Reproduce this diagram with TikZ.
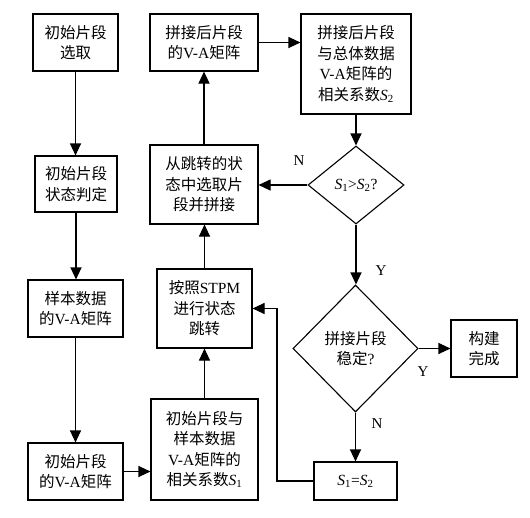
\documentclass[tikz,border=0pt]{standalone}
\usepackage{fontspec}
\setmainfont{Liberation Serif}
\newfontfamily\cjk{Noto Sans CJK SC}
\usetikzlibrary{arrows.meta,shapes.geometric}
\newcommand{\zw}[1]{{\cjk #1}}
\newcommand{\sv}[1]{\textit{S}\textsubscript{#1}}
\begin{document}
\begin{tikzpicture}[x=1pt,y=-1pt,
  every node/.style={font=\fontsize{15.5}{20.5}\selectfont},
  box/.style={draw,line width=1.1pt,align=center,inner sep=1pt},
  dia/.style={draw,line width=1.1pt,shape=diamond,align=center,inner sep=0pt},
  lab/.style={font=\fontsize{15}{18}\selectfont},
  arr/.style={line width=1.1pt,-{Triangle[length=12pt,width=11pt]}}]
\useasboundingbox (0,0) rectangle (530,517);
\node[box,minimum width=85pt,minimum height=57pt] (b1) at (75.5,42.5) {\zw{初始片段}\\\zw{选取}};
\node[box,minimum width=82pt,minimum height=56pt] (b2) at (76,184) {\zw{初始片段}\\\zw{状态判定}};
\node[box,minimum width=95pt,minimum height=57pt] (b3) at (75.5,308.5) {\zw{样本数据}\\\zw{的}V-A\zw{矩阵}};
\node[box,minimum width=95pt,minimum height=57pt] (b4) at (75.5,471.5) {\zw{初始片段}\\\zw{的}V-A\zw{矩阵}};
\node[box,minimum width=107pt,minimum height=101pt] (b5) at (204.5,449.5) {\zw{初始片段与}\\\zw{样本数据}\\V-A\zw{矩阵的}\\\zw{相关系数}\sv{1}};
\node[box,minimum width=95pt,minimum height=79pt] (b6) at (204.5,308.5) {\zw{按照}STPM\\\zw{进行状态}\\\zw{跳转}};
\node[box,minimum width=108pt,minimum height=79pt] (b7) at (204,184.5) {\zw{从跳转的状}\\\zw{态中选取片}\\\zw{段并拼接}};
\node[box,minimum width=108pt,minimum height=57pt] (b8) at (204,42.5) {\zw{拼接后片段}\\\zw{的}V-A\zw{矩阵}};
\node[box,minimum width=110pt,minimum height=100pt] (b9) at (356,64) {\zw{拼接后片段}\\\zw{与总体数据}\\V-A\zw{矩阵的}\\\zw{相关系数}\sv{2}};
\node[dia,minimum width=96pt,minimum height=78pt] (d1) at (356,185) {\sv{1}>\sv{2}?};
\node[dia,minimum width=125pt,minimum height=127pt] (d2) at (355.5,348.5) {\zw{拼接片段}\\\zw{稳定}?};
\node[box,minimum width=66pt,minimum height=57pt] (b10) at (484,348.5) {\zw{构建}\\\zw{完成}};
\node[box,minimum width=83pt,minimum height=38pt] (b11) at (355.5,481) {\sv{1}=\sv{2}};
\coordinate (turn) at (277,481);
\draw[arr] (b1.south) -- (b1.south |- b2.north);
\draw[arr] (b2.south) -- (b2.south |- b3.north);
\draw[arr] (b3.south) -- (b3.south |- b4.north);
\draw[arr] (b4.east) -- (b4.east -| b5.west);
\draw[arr] (b5.north) -- (b5.north |- b6.south);
\draw[arr] (b6.north) -- (b6.north |- b7.south);
\draw[arr] (b7.north) -- (b7.north |- b8.south);
\draw[arr] (b8.east) -- (b8.east -| b9.west);
\draw[arr] (b9.south) -- (b9.south |- d1.north);
\draw[arr] (d1.west) -- (d1.west -| b7.east);
\draw[arr] (d1.south) -- (d1.south |- d2.north);
\draw[arr] (d2.east) -- (d2.east -| b10.west);
\draw[arr] (d2.south) -- (d2.south |- b11.north);
\draw[arr] (b11.west) -- (turn) |- (b6.east);
\node[lab] (ln1) at (299,161) {N};
\node[lab] (ly1) at (381,271) {Y};
\node[lab] (ly2) at (423,372) {Y};
\node[lab] (ln2) at (377,424) {N};
\end{tikzpicture}
\end{document}
